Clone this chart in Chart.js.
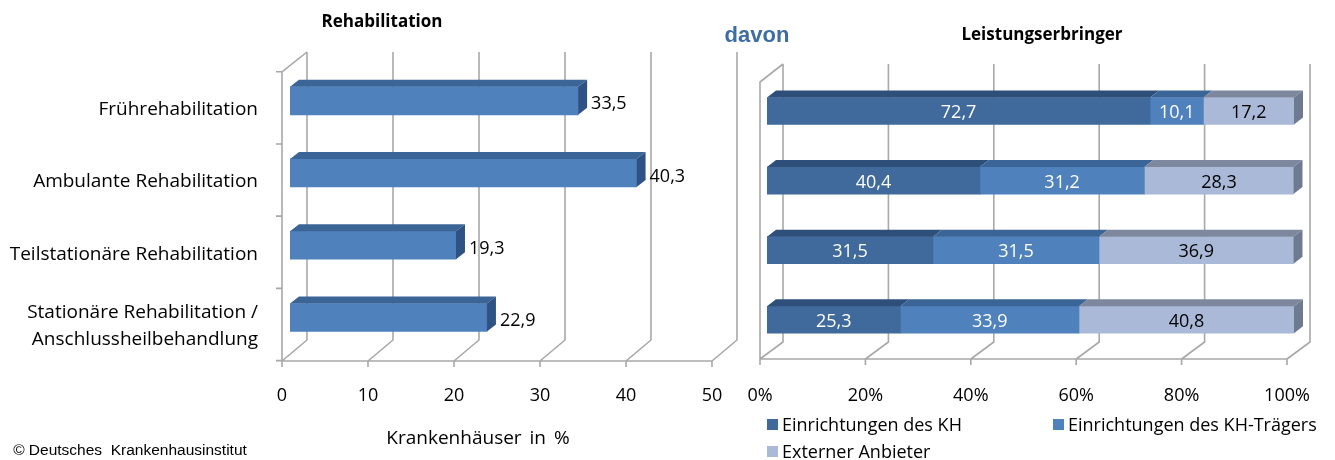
<!DOCTYPE html>
<html><head><meta charset="utf-8">
<script src="https://cdn.jsdelivr.net/npm/chart.js@4"></script>
<style>
html,body{margin:0;padding:0;background:#fff;}
body{width:1335px;height:460px;position:relative;overflow:hidden;font-family:'Open Sans',sans-serif;}
canvas{position:absolute;top:0;}
#c1{left:0;}
#c2{left:745px;}
.t{position:absolute;white-space:nowrap;color:#000;transform:translate(-50%,-50%);line-height:1;}
.lg{position:absolute;white-space:nowrap;font-size:18px;line-height:1;display:flex;align-items:center;transform:translateY(-50%);}
.lg span.m{display:inline-block;width:11px;height:11px;margin-right:4px;}
</style></head><body>
<canvas id="c1" width="745" height="460"></canvas>
<canvas id="c2" width="590" height="460"></canvas>
<div class="t" style="left:382px;top:20px;font-weight:bold;font-size:17px;">Rehabilitation</div>
<div class="t" style="left:757px;top:35px;font-weight:bold;font-size:22px;color:#3E6CA4;font-family:'Liberation Sans',Arial,sans-serif;">davon</div>
<div class="t" style="left:1042px;top:33px;font-weight:bold;font-size:17px;">Leistungserbringer</div>
<div class="t" style="left:478px;top:437px;font-size:19px;word-spacing:3px;">Krankenhäuser in %</div>
<div class="t" style="left:130px;top:450px;font-size:15.5px;font-family:'Liberation Sans',Arial,sans-serif;">© Deutsches&nbsp; Krankenhausinstitut</div>
<div id="legend"></div>
<script>
// ---- data ----
const categories = ['Frührehabilitation', 'Ambulante Rehabilitation', 'Teilstationäre Rehabilitation', ['Stationäre Rehabilitation /', 'Anschlussheilbehandlung']];
const rehaValues = [33.5, 40.3, 19.3, 22.9];
const seriesNames = ['Einrichtungen des KH', 'Einrichtungen des KH-Trägers', 'Externer Anbieter'];
const einrichtungenKH = [72.7, 40.4, 31.5, 25.3];
const einrichtungenTraeger = [10.1, 31.2, 31.5, 33.9];
const externerAnbieter = [17.2, 28.3, 36.9, 40.8];
const leftTickStep = 10, leftMax = 50;
const rightTickStep = 20, rightMax = 100;

const FONT = "'Open Sans', sans-serif";
const fmt = v => v.toFixed(1).replace('.', ',');

function poly(ctx, pts, color) {
  ctx.beginPath();
  ctx.moveTo(pts[0][0], pts[0][1]);
  for (let i = 1; i < pts.length; i++) ctx.lineTo(pts[i][0], pts[i][1]);
  ctx.closePath();
  ctx.fillStyle = color;
  ctx.fill();
}

const frame3D = {
  id: 'frame3D',
  beforeDatasetsDraw(chart, args, o) {
    const ctx = chart.ctx, xs = chart.scales.x, ys = chart.scales.y;
    const px = xs.ticks.map(t => xs.getPixelForValue(t.value));
    ctx.save();
    ctx.strokeStyle = '#a8a8a8';
    ctx.lineWidth = 1.6;
    ctx.beginPath();
    px.forEach(p => {
      const fx = p + o.front, bx = p + o.back;
      ctx.moveTo(bx, o.backTop); ctx.lineTo(bx, o.backBottom); ctx.lineTo(fx, o.baseY); ctx.lineTo(fx, o.baseY + 6);
    });
    const f0 = px[0] + o.front, f1 = px[px.length - 1] + o.front;
    ctx.moveTo(f0, o.baseY); ctx.lineTo(f1, o.baseY);
    ctx.moveTo(f0, o.baseY); ctx.lineTo(f0, o.wallTop); ctx.lineTo(px[0] + o.back, o.backTop);
    if (o.wallTicks) {
      for (let i = 0; i <= ys.ticks.length; i++) {
        const y = ys.getPixelForValue(i - 0.5) + o.wallShift;
        ctx.moveTo(f0 - 6, y); ctx.lineTo(f0, y);
      }
    }
    ctx.stroke();
    ctx.restore();
  }
};

const bars3D = {
  id: 'bars3D',
  afterDatasetsDraw(chart, args, o) {
    const ctx = chart.ctx;
    const sets = chart.data.datasets;
    ctx.save();
    sets.forEach((ds, di) => {
      const meta = chart.getDatasetMeta(di);
      meta.data.forEach((bar, i) => {
        const p = bar.getProps(['x', 'y', 'base', 'height'], true);
        const top = p.y - p.height / 2, bottom = p.y + p.height / 2;
        poly(ctx, [[p.base, top], [p.base + o.dx, top - o.dy], [p.x + o.dx, top - o.dy], [p.x, top]], ds.topColor);
        if (di === sets.length - 1) {
          poly(ctx, [[p.x, top], [p.x + o.dx, top - o.dy], [p.x + o.dx, bottom - o.dy], [p.x, bottom]], ds.sideColor);
        }
      });
    });
    ctx.font = '18px ' + FONT;
    ctx.textBaseline = 'middle';
    sets.forEach((ds, di) => {
      const meta = chart.getDatasetMeta(di);
      meta.data.forEach((bar, i) => {
        const p = bar.getProps(['x', 'y', 'base', 'height'], true);
        const v = ds.data[i];
        ctx.fillStyle = ds.labelColor;
        if (o.inside) {
          ctx.textAlign = 'center';
          ctx.fillText(fmt(v), (p.x + p.base) / 2, p.y + 2);
        } else {
          ctx.textAlign = 'left';
          ctx.fillText(fmt(v), p.x + o.dx + 4, p.y + 3.5);
        }
      });
    });
    ctx.restore();
  }
};

// ---- left chart ----
new Chart(document.getElementById('c1'), {
  type: 'bar',
  data: {
    labels: categories,
    datasets: [{
      data: rehaValues,
      backgroundColor: '#4F81BD',
      topColor: '#3C6597',
      sideColor: '#2E5283',
      labelColor: '#000',
      barThickness: 28,
      borderWidth: 0
    }]
  },
  options: {
    indexAxis: 'y',
    responsive: false,
    animation: false,
    events: [],
    layout: { padding: { top: 64.7, left: 0, right: 25, bottom: 0 } },
    plugins: {
      legend: { display: false }, tooltip: { enabled: false },
      frame3D: { front: -8, back: 17, backTop: 52, backBottom: 340, baseY: 361, wallTop: 72, wallTicks: true, wallShift: 7 },
      bars3D: { dx: 9, dy: 7, inside: false }
    },
    scales: {
      x: {
        min: 0, max: leftMax,
        ticks: { stepSize: leftTickStep, color: '#000', font: { family: FONT, size: 18 }, padding: 0, labelOffset: -8, maxRotation: 0 },
        grid: { display: false, drawTicks: true, tickLength: 31.6 }, border: { display: false },
        afterFit: a => { a.height = 460 - 353.6; }
      },
      y: {
        ticks: { color: '#000', font: { family: FONT, size: 19, lineHeight: 1.42 }, padding: 32, labelOffset: 9 },
        grid: { display: false, drawTicks: false }, border: { display: false },
        afterFit: a => { a.width = 290; }
      }
    }
  },
  plugins: [frame3D, bars3D]
});

// ---- right chart ----
const rightColors = [
  { front: '#40699C', top: '#2F4F7B', side: '#2F4F7B', label: '#fff' },
  { front: '#4F81BD', top: '#3C6597', side: '#3C6597', label: '#fff' },
  { front: '#AAB9D8', top: '#7D889E', side: '#6E7A91', label: '#000' }
];
const rightSeries = [einrichtungenKH, einrichtungenTraeger, externerAnbieter];
new Chart(document.getElementById('c2'), {
  type: 'bar',
  data: {
    labels: categories,
    datasets: rightSeries.map((d, k) => ({
      label: seriesNames[k],
      data: d,
      backgroundColor: rightColors[k].front,
      topColor: rightColors[k].top,
      sideColor: rightColors[k].side,
      labelColor: rightColors[k].label,
      barThickness: 27,
      borderWidth: 0
    }))
  },
  options: {
    indexAxis: 'y',
    responsive: false,
    animation: false,
    events: [],
    layout: { padding: { top: 76.2, left: 22, right: 41, bottom: 0 } },
    plugins: {
      legend: { display: false }, tooltip: { enabled: false },
      frame3D: { front: -7, back: 16, backTop: 64, backBottom: 342, baseY: 359, wallTop: 82, wallTicks: false, wallShift: 7 },
      bars3D: { dx: 9, dy: 7, inside: true }
    },
    scales: {
      x: {
        stacked: true, min: 0, max: rightMax,
        ticks: { stepSize: rightTickStep, color: '#000', font: { family: FONT, size: 18 }, padding: 0, labelOffset: -7, maxRotation: 0, callback: v => v + '%' },
        grid: { display: false, drawTicks: true, tickLength: 30.7 }, border: { display: false },
        afterFit: a => { a.height = 460 - 354.5; }
      },
      y: { stacked: true, display: false }
    }
  },
  plugins: [frame3D, bars3D]
});

// ---- legend (HTML) ----
const legendPos = [[767, 424], [1053, 424], [767, 451]];
const lg = document.getElementById('legend');
seriesNames.forEach((n, k) => {
  const d = document.createElement('div');
  d.className = 'lg';
  d.style.left = legendPos[k][0] + 'px';
  d.style.top = legendPos[k][1] + 'px';
  d.innerHTML = '<span class="m" style="background:' + rightColors[k].front + '"></span>' + n;
  lg.appendChild(d);
});
</script>
</body></html>
